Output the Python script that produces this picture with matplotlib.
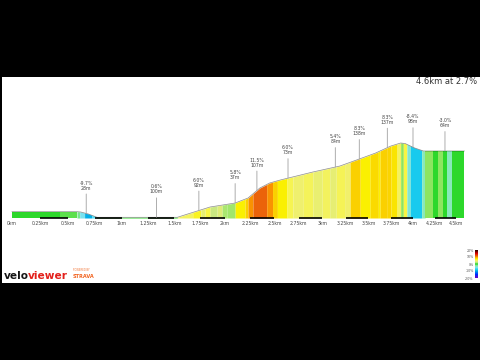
import numpy as np
import matplotlib
matplotlib.use('Agg')
import matplotlib.pyplot as plt
from matplotlib.colors import LinearSegmentedColormap, Normalize
from matplotlib.patches import Rectangle

# profile (distance in km, elevation in m above the chart floor)
dist_km = [0.0, 0.59, 0.62, 0.69, 0.77, 1.53, 1.60, 1.85, 2.10, 2.23, 2.35, 2.45,
           2.56, 2.90, 3.19, 3.37, 3.58, 3.75, 3.86, 3.91, 4.02, 4.12, 4.60]
elev_m = [12.6, 12.6, 12.0, 8.0, 1.4, 1.4, 6.0, 22.0, 30.0, 40.0, 60.0, 70.0,
          76.0, 92.0, 104.0, 116.0, 130.0, 144.0, 150.0, 149.0, 140.0, 134.0, 134.0]

# coloured gradient bands: start of band (km) and its gradient (%)
band_start_km = [0.0, 0.43, 0.585, 0.61, 0.655, 0.72, 0.765, 1.53, 1.68, 1.76, 1.80,
                 1.85, 1.92, 1.97, 2.02, 2.10, 2.20, 2.23, 2.28, 2.42, 2.48, 2.53,
                 2.63, 2.69, 2.80, 2.90, 3.00, 3.08, 3.15, 3.24, 3.30, 3.41, 3.52,
                 3.61, 3.63, 3.71, 3.75, 3.82, 3.86, 3.89, 3.93, 3.97, 4.10, 4.14,
                 4.23, 4.29, 4.35, 4.39, 4.45]
band_grade = [0.0, 0.8, -2.0, -5.0, -9.7, -6.0, 0.3, 5.0, 6.5, 4.0, 6.0,
              2.5, 3.5, 2.0, 1.8, 7.0, 8.5, 10.0, 11.5, 10.0, 8.5, 7.0,
              5.5, 4.5, 5.2, 4.2, 5.0, 4.0, 5.4, 4.6, 8.5, 7.0, 8.0,
              7.0, 8.5, 8.3, 7.5, 5.0, 1.5, 6.0, -4.0, -8.4, -3.0, 1.5,
              0.0, 1.5, 0.0, -3.0, 0.0]
route_end_km = 4.6

# segment call-outs
label_km = [0.67, 1.33, 1.74, 2.10, 2.32, 2.64, 3.14, 3.40, 3.71, 4.00, 4.37]
label_grade = ['-9.7%', '0.6%', '6.0%', '5.8%', '11.5%', '6.0%', '5.4%',
               '8.3%', '8.3%', '-8.4%', '-3.0%']
label_len = ['28m', '100m', '92m', '37m', '107m', '73m', '84m',
             '138m', '137m', '98m', '64m']

tick_km = np.arange(0, 4.51, 0.25)
cbar_ticks = [20, 10, 0, -10, -20]

# veloviewer gradient colours
grade_stops = [-20, -15, -10, -8, -5, -2.5, 0, 1, 1.6, 2.5, 4.5, 6, 7, 8.5, 10, 11.5, 15, 20]
grade_colors = ['#6e00c8', '#0028ff', '#00aae6', '#1ed2f0', '#78e1f0', '#8cebaa',
                '#28d728', '#64e150', '#96e664', '#c8e882', '#f0f06e', '#f8f546',
                '#faf000', '#fad200', '#fa9600', '#eb640a', '#dc0000', '#280000']
norm = Normalize(-20, 20)
cmap = LinearSegmentedColormap.from_list(
    'vv', [((g + 20) / 40, c) for g, c in zip(grade_stops, grade_colors)])

# x axis in veloviewer is slightly compressed towards the end
B, C = 112.9, 3.163


def fwd(k):
    k = np.asarray(k, dtype=float)
    return B * k - C * k ** 2


def inv(p):
    p = np.asarray(p, dtype=float)
    disc = np.clip(B ** 2 - 4 * C * p, 0, None)
    return (B - np.sqrt(disc)) / (2 * C)


fig = plt.figure(figsize=(4.8, 3.6), dpi=100, facecolor='black')
fig.patches.append(Rectangle((2 / 480, 77 / 360), 478 / 480, 206 / 360,
                             transform=fig.transFigure, facecolor='white',
                             edgecolor='none', zorder=-10))

ax = fig.add_axes([2 / 480, 1 - 218 / 360, 478 / 480, 118 / 360])
ax.set_facecolor('none')
ax.set_xscale('function', functions=(fwd, inv))
ax.set_xlim(float(inv(-10)), float(inv(468)))
ax.set_ylim(0, 236)
for s in ax.spines.values():
    s.set_visible(False)
ax.set_yticks([])

# coloured fill, one band at a time
ends = band_start_km[1:] + [route_end_km]
for start, end, g in zip(band_start_km, ends, band_grade):
    xs = [start] + [d for d in dist_km if start < d < end] + [end]
    ys = np.interp(xs, dist_km, elev_m)
    ax.fill_between(xs, 0, ys, color=cmap(norm(g)), lw=0)
ax.plot(dist_km, elev_m, color='black', alpha=0.45, lw=0.5)

# distance scale bar
for k in tick_km[1::2]:
    ax.plot([k, k + 0.25], [0.5, 0.5], color='black', lw=1.2,
            solid_capstyle='butt', clip_on=False)

ax.set_xticks(tick_km)
ax.set_xticklabels([f'{v:g}km' for v in tick_km])
ax.tick_params(axis='x', length=0, pad=2.5, labelsize=3.3, labelcolor='#444')

for k, g, ln in zip(label_km, label_grade, label_len):
    y = float(np.interp(k, dist_km, elev_m))
    ax.annotate(f'{g}\n{ln}', xy=(k, y), xytext=(0, 16.5), textcoords='offset points',
                ha='center', va='bottom', fontsize=3.3, color='#444', linespacing=1.0,
                arrowprops=dict(arrowstyle='-', color='#a0a0a0', lw=0.6,
                                shrinkA=0.5, shrinkB=0))

fig.text(477 / 480, 1 - 84.3 / 360, '4.6km at 2.7%', ha='right', va='baseline',
         fontsize=6, color='#333')

# logo
r = fig.canvas.get_renderer()
t1 = fig.text(4 / 480, 1 - 279 / 360, 'velo', fontsize=7.6, fontweight='bold',
              color='#151515', va='baseline')
x1 = t1.get_window_extent(renderer=r).x1 / fig.bbox.width
fig.text(x1 - 0.002, 1 - 279 / 360, 'viewer', fontsize=7.6, fontweight='bold',
         color='#e3201b', va='baseline')
fig.text(73 / 480, 1 - 271 / 360, 'POWERED BY', fontsize=1.8, color='#f07030',
         va='baseline')
fig.text(73 / 480, 1 - 278 / 360, 'STRAVA', fontsize=3.6, fontweight='bold',
         color='#f26522', va='baseline')

# gradient legend
cax = fig.add_axes([475 / 480, 1 - 278 / 360, 2.5 / 480, 28 / 360])
cb = fig.colorbar(plt.cm.ScalarMappable(norm=norm, cmap=cmap), cax=cax,
                  ticks=cbar_ticks)
cb.outline.set_visible(False)
cb.ax.yaxis.set_ticks_position('left')
cb.ax.set_yticklabels([f'{v}%' for v in cbar_ticks])
cb.ax.tick_params(length=0, labelsize=2.3, pad=1, labelcolor='#555')

fig.savefig('out.png', dpi=100, facecolor='black')
